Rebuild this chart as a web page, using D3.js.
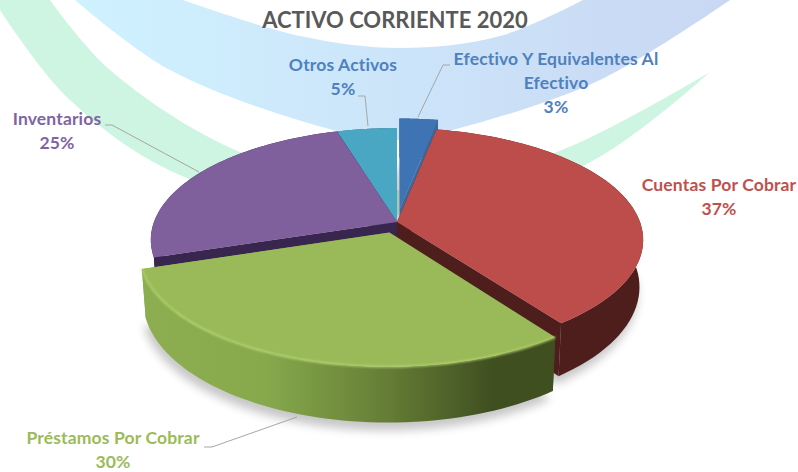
<!DOCTYPE html>
<html>
<head>
<meta charset="utf-8">
<script src="https://cdn.jsdelivr.net/npm/d3@7"></script>
<style>
  html, body { margin: 0; padding: 0; background: #fff; }
  svg { display: block; }
  text { font-family: Lato, "Open Sans", sans-serif; font-weight: 700; text-anchor: middle; }
</style>
</head>
<body>
<div id="canvas"></div>
<script>
// chart data
const chartTitle = "ACTIVO CORRIENTE 2020";
const categories = ["Efectivo Y Equivalentes Al Efectivo", "Cuentas Por Cobrar", "Préstamos Por Cobrar", "Inventarios", "Otros Activos"];
const values = [3, 37, 30, 25.4, 4.6];
const labelLines = [["Efectivo Y Equivalentes Al", "Efectivo"], ["Cuentas Por Cobrar"], ["Préstamos Por Cobrar"], ["Inventarios"], ["Otros Activos"]];

// styling per slice
const topColors = ["#3f74b4", "#bc4d4a", "#9aba59", "#7f609c", "#4aa7c3"];
const textColors = ["#4f81bd", "#c0504d", "#9bbb59", "#8064a2", "#4f81bd"];
const wallColors = ["#38699f", "#4e1e1d", "url(#greenWall)", "#38264f", "#2f6d80"];
const explode = [0.12, 0, 0.1, 0, 0];
const labelPos = [[556, 65], [719, 191], [113, 444], [57, 125], [343, 71]];
const leaders = [
  [[450, 65], [443, 65], [418, 117]],
  null,
  [[204, 447], [212, 447], [297, 417]],
  [[105, 125], [112, 125], [199, 172]],
  [[358, 96], [365, 96], [368, 126]]
];
const drawOrder = [4, 3, 0, 1, 2];

const width = 798, height = 472;
const cx = 397, cy = 222, R = 243, tilt = 109, persp = 0.16, depth = 46, bottomShrink = 0.985;

const svg = d3.select("#canvas").append("svg").attr("width", width).attr("height", height);
const defs = svg.append("defs");

const blueBand = defs.append("linearGradient").attr("id", "blueBand")
  .attr("gradientUnits", "userSpaceOnUse").attr("x1", 75).attr("x2", 730).attr("y1", 0).attr("y2", 0);
blueBand.append("stop").attr("offset", 0).attr("stop-color", "#cff2ff");
blueBand.append("stop").attr("offset", 1).attr("stop-color", "#c9d7f3");

const greenWall = defs.append("linearGradient").attr("id", "greenWall")
  .attr("gradientUnits", "userSpaceOnUse").attr("x1", 142).attr("x2", 555).attr("y1", 0).attr("y2", 0);
[[0, "#8dae50"], [0.3, "#87a94c"], [0.6, "#647c35"], [0.85, "#3f4f20"], [1, "#3f4f20"]].forEach(s =>
  greenWall.append("stop").attr("offset", s[0]).attr("stop-color", s[1]));

defs.append("filter").attr("id", "soft").attr("x", "-10%").attr("y", "-10%").attr("width", "120%").attr("height", "120%")
  .append("feGaussianBlur").attr("stdDeviation", 5);
defs.append("filter").attr("id", "rim").attr("x", "-10%").attr("y", "-10%").attr("width", "120%").attr("height", "120%")
  .append("feGaussianBlur").attr("stdDeviation", 0.8);

// background swooshes
const smooth = d3.line().curve(d3.curveCatmullRom);
svg.append("path").attr("fill", "url(#blueBand)")
  .attr("d", smooth([[75, 0], [170, 70], [333, 130], [400, 140], [460, 128], [600, 80], [730, 0]]) + "L583,0"
    + smooth([[583, 0], [500, 36], [400, 48], [300, 36], [183, 0]]).replace("M", "L") + "Z");
svg.append("path").attr("fill", "#cdf5e2")
  .attr("d", smooth([[0, 10], [70, 100], [187, 178], [400, 215], [585, 165], [710, 72]]) + "L710,72"
    + smooth([[710, 72], [557, 152], [400, 190], [240, 152], [110, 70], [50, 0]]).replace("M", "L") + "L0,0Z");

// project a point of the pie disc onto the page, with simple perspective
function project(u, v, lower) {
  const s = 1 / (1 - persp * v);
  const k = lower ? bottomShrink : 1;
  return [cx + R * u * s * k, cy + tilt * v * s + (lower ? depth * s : 0)];
}

const pie = d3.pie().value(d => d).sort(null);
const slices = pie(values);
const line = d3.line();
const rimPts = (d, i, lower) => {
  const mid = (d.startAngle + d.endAngle) / 2;
  const ox = explode[i] * Math.sin(mid), oy = -explode[i] * Math.cos(mid);
  const steps = d3.range(0, 61).map(t => d.startAngle + (d.endAngle - d.startAngle) * t / 60);
  return {
    apex: project(ox, oy, lower),
    arc: steps.map(a => project(ox + Math.sin(a), oy - Math.cos(a), lower))
  };
};

// soft shadow under the pie
svg.append("g").attr("filter", "url(#soft)").attr("opacity", 0.22).attr("transform", "translate(-2,8)")
  .selectAll("path").data(slices).join("path")
  .attr("fill", "#000")
  .attr("d", (d, i) => { const b = rimPts(d, i, true); return line([b.apex, ...b.arc]) + "Z"; });

drawOrder.forEach(i => {
  const d = slices[i];
  const t = rimPts(d, i, false), b = rimPts(d, i, true);
  const g = svg.append("g");
  const n = t.arc.length - 1;
  // cut walls, then outer wall, then top face
  g.append("path").attr("fill", wallColors[i]).attr("d", line([t.apex, t.arc[0], b.arc[0], b.apex]) + "Z");
  g.append("path").attr("fill", wallColors[i]).attr("d", line([t.apex, t.arc[n], b.arc[n], b.apex]) + "Z");
  g.append("path").attr("fill", wallColors[i]).attr("d", line([...t.arc, ...b.arc.slice().reverse()]) + "Z");
  g.append("path").attr("fill", topColors[i]).attr("d", line([t.apex, ...t.arc]) + "Z");
  if (i === 2) {
    g.append("path").attr("fill", "none").attr("stroke", "#b7d672").attr("stroke-width", 1.6)
      .attr("filter", "url(#rim)").attr("d", line(t.arc));
  }
});

// leader lines
svg.append("g").selectAll("path").data(leaders.filter(l => l)).join("path")
  .attr("fill", "none").attr("stroke", "#a6a6a6").attr("stroke-width", 1).attr("d", line);

// title and labels
svg.append("text").attr("x", 395).attr("y", 28).attr("font-size", 22).attr("fill", "#595959")
  .text(chartTitle);

categories.forEach((c, i) => {
  const lines = labelLines[i].concat(Math.round(values[i]) + "%");
  const t = svg.append("text").attr("font-size", 17.5).attr("letter-spacing", 0.15).attr("fill", textColors[i]);
  lines.forEach((s, j) => {
    t.append("tspan").attr("x", labelPos[i][0]).attr("y", labelPos[i][1] + j * 24).text(s);
  });
});
</script>
</body>
</html>
